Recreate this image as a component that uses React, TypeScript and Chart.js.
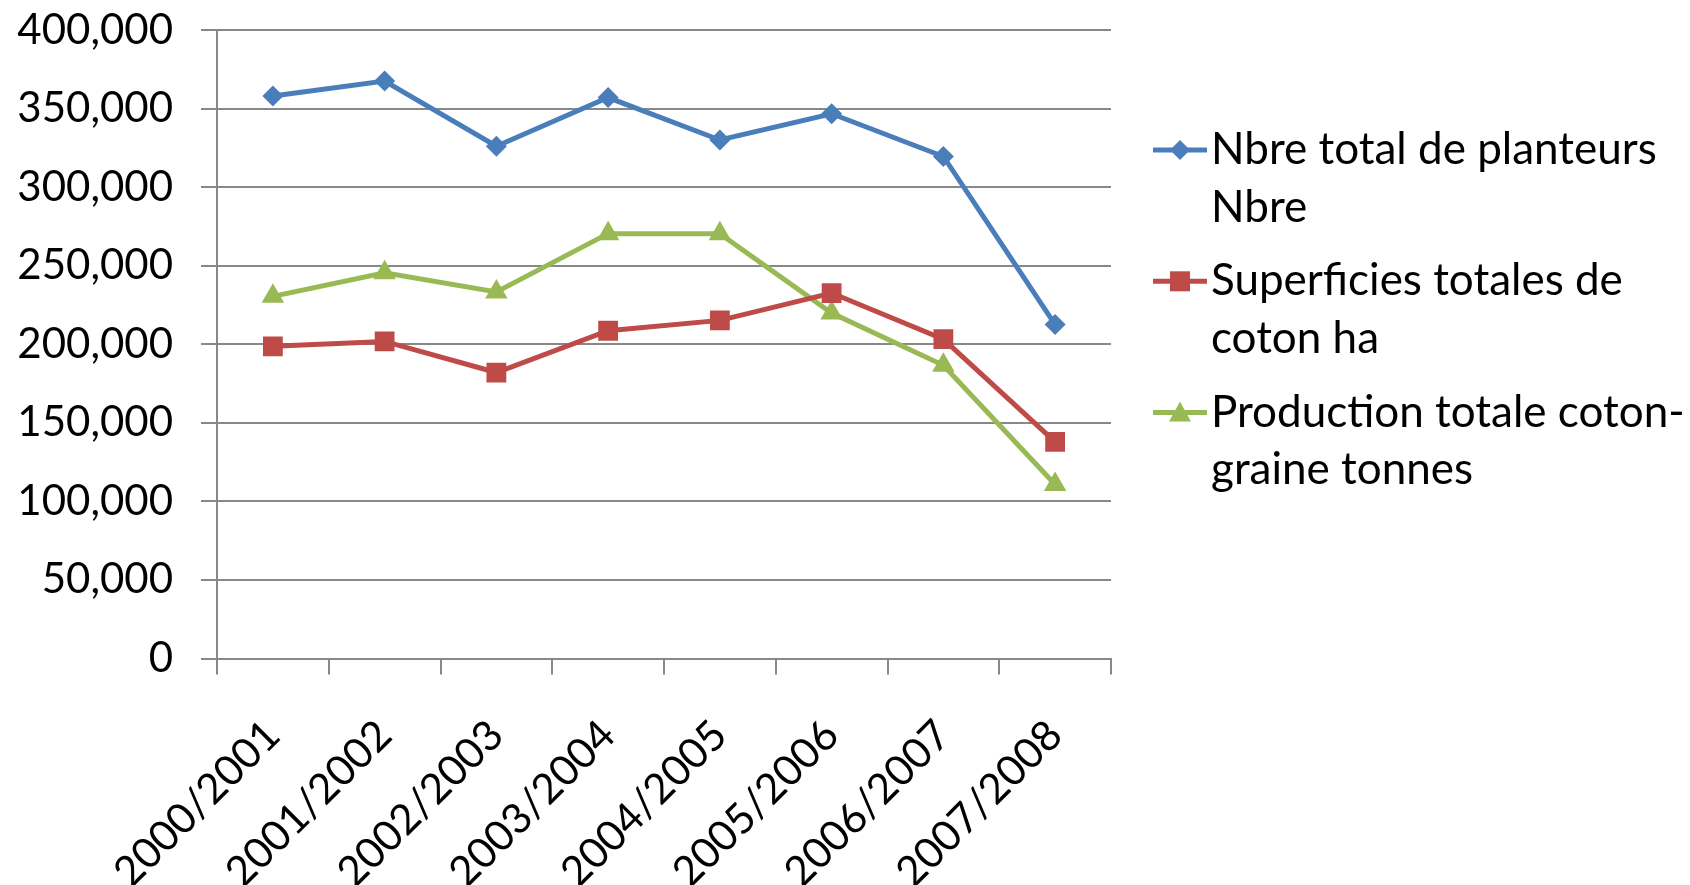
import React, { useEffect, useRef } from 'react';
import { Chart, registerables } from 'chart.js';

Chart.register(...registerables);

const categories = ['2000/2001', '2001/2002', '2002/2003', '2003/2004', '2004/2005', '2005/2006', '2006/2007', '2007/2008'];
const planteurs = [358000, 367500, 326000, 357000, 330000, 346700, 319500, 212500];
const superficies = [198700, 201800, 182000, 208600, 215200, 232600, 203300, 137900];
const production = [230500, 245500, 233300, 270400, 270400, 219900, 186600, 110700];
const seriesLabels = [
  ['Nbre total de planteurs', 'Nbre'],
  ['Superficies totales de', 'coton ha'],
  ['Production totale coton-', 'graine tonnes'],
];
const seriesColors = ['#4A7EBB', '#BE4B48', '#98B954'];
const seriesStyles = ['rectRot', 'rect', 'triangle'];
const yMin = 0;
const yMax = 400000;
const yStep = 50000;

const FONT = 'Lato, "Open Sans", sans-serif';

const legendPlugin = {
  id: 'customLegend',
  afterDraw(chart: any) {
    const ctx = chart.ctx;
    const x0 = 1153;
    const x1 = 1207;
    const xm = 1180;
    const textX = 1211;
    const firstBaseline = 164;
    const lineGap = 57.7;
    const entryGap = 131.3;
    ctx.save();
    chart.data.datasets.forEach((ds: any, i: number) => {
      const base = firstBaseline + i * entryGap;
      const ly = base - 14;
      ctx.strokeStyle = ds.borderColor;
      ctx.lineWidth = 5;
      ctx.beginPath();
      ctx.moveTo(x0, ly);
      ctx.lineTo(x1, ly);
      ctx.stroke();
      ctx.fillStyle = ds.borderColor;
      ctx.beginPath();
      if (ds.pointStyle === 'rectRot') {
        ctx.moveTo(xm, ly - 10);
        ctx.lineTo(xm + 10, ly);
        ctx.lineTo(xm, ly + 10);
        ctx.lineTo(xm - 10, ly);
        ctx.closePath();
      } else if (ds.pointStyle === 'rect') {
        ctx.rect(xm - 10, ly - 10, 20, 20);
      } else {
        ctx.moveTo(xm, ly - 11);
        ctx.lineTo(xm + 11, ly + 9);
        ctx.lineTo(xm - 11, ly + 9);
        ctx.closePath();
      }
      ctx.fill();
      ctx.fillStyle = '#000';
      ctx.font = '44px ' + FONT;
      ctx.textAlign = 'left';
      ctx.textBaseline = 'alphabetic';
      (ds.label as string[]).forEach((t: string, j: number) => {
        ctx.fillText(t, textX, base + j * lineGap);
      });
    });
    ctx.restore();
  },
};

export default function App() {
  const ref = useRef<HTMLCanvasElement>(null);
  useEffect(() => {
    if (!ref.current) return;
    const seriesData = [planteurs, superficies, production];
    const chart = new Chart(ref.current, {
      type: 'line',
      data: {
        labels: categories,
        datasets: seriesData.map((d, i) => ({
          label: seriesLabels[i] as any,
          data: d,
          borderColor: seriesColors[i],
          backgroundColor: seriesColors[i],
          borderWidth: 5,
          pointStyle: seriesStyles[i] as any,
          pointRadius: [10.5, 14, 13][i],
          pointBorderWidth: 0,
          pointBackgroundColor: seriesColors[i],
          tension: 0,
        })),
      },
      options: {
        animation: false,
        responsive: false,
        devicePixelRatio: 1,
        layout: { padding: { left: 0, right: 579, top: 30, bottom: 0 } },
        plugins: {
          legend: { display: false },
          tooltip: { enabled: false },
        },
        scales: {
          x: {
            type: 'category',
            offset: true,
            afterFit: (scale: any) => {
              scale.height = 226.5;
              scale.paddingLeft = 0;
              scale.paddingRight = 0;
            },
            grid: {
              offset: true,
              drawOnChartArea: false,
              drawTicks: true,
              tickLength: 16,
              color: '#888888',
              lineWidth: 2,
            },
            border: { display: true, color: '#888888', width: 2 },
            ticks: {
              color: '#000',
              font: { family: FONT, size: 42 },
              minRotation: 45,
              maxRotation: 45,
              padding: 36,
              autoSkip: false,
            },
          },
          y: {
            min: yMin,
            max: yMax,
            afterFit: (scale: any) => {
              scale.width = 217;
              scale.paddingTop = 0;
              scale.paddingBottom = 0;
            },
            grid: {
              color: '#888888',
              lineWidth: 2,
              tickLength: 16,
              drawTicks: true,
            },
            border: { display: true, color: '#888888', width: 2 },
            ticks: {
              stepSize: yStep,
              color: '#000',
              font: { family: FONT, size: 42 },
              padding: 28,
              callback: (v: any) => Number(v).toLocaleString('en-US'),
            },
          },
        },
      },
      plugins: [legendPlugin],
    });
    return () => chart.destroy();
  }, []);
  return (
    <div style={{ position: 'fixed', left: 0, top: 0, width: 1690, height: 885, background: '#fff' }}>
      <canvas ref={ref} width={1690} height={885} style={{ width: 1690, height: 885, display: 'block' }} />
    </div>
  );
}
